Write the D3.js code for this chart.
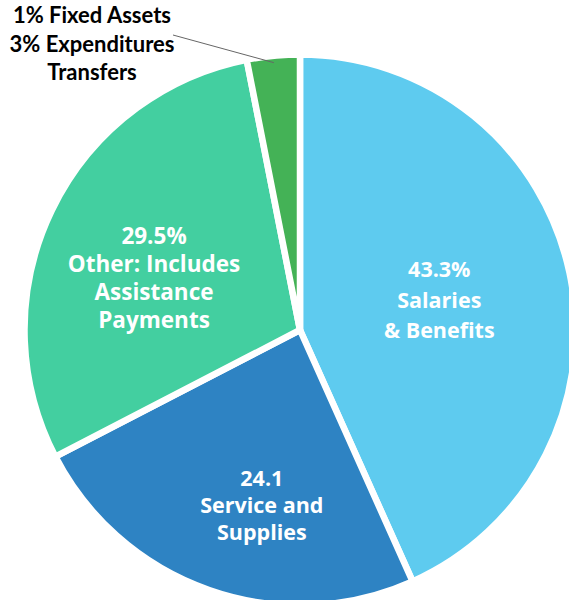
<!DOCTYPE html>
<html>
<head>
<meta charset="utf-8">
<script src="https://cdn.jsdelivr.net/npm/d3@7"></script>
<style>
  body { margin: 0; background: #fff; }
  svg { display: block; }
  .slice-label { fill: #fff; font-family: "Open Sans", Lato, sans-serif; font-weight: bold; }
  .outside-label { fill: #000; font-family: Lato, "Open Sans", sans-serif; font-weight: bold; }
</style>
</head>
<body>
<svg id="chart"></svg>
<script>
// Slice data
var categories = ["Salaries & Benefits", "Service and Supplies", "Other: Includes Assistance Payments", "Expenditures Transfers"];
var values = [43.3, 24.1, 29.5, 3.1];
var colors = ["#5ecbef", "#2e83c3", "#43cfa0", "#44b256"];

// Label lines for the slices
var sliceLabels = [
    ["43.3%", "Salaries", "& Benefits"],
    ["24.1", "Service and", "Supplies"],
    ["29.5%", "Other: Includes", "Assistance", "Payments"],
    []
];
var outsideLabel = ["1% Fixed Assets", "3% Expenditures", "Transfers"];

var width = 569, height = 600;
var cx = 300, cy = 330, radius = 275.5;

var svg = d3.select("#chart")
    .attr("width", width)
    .attr("height", height);

var data = categories.map(function(c, i) {
    return { name: c, value: values[i], color: colors[i], lines: sliceLabels[i] };
});

var pie = d3.pie()
    .sort(null)
    .value(d => d.value);

var arc = d3.arc()
    .innerRadius(0)
    .outerRadius(radius);

var g = svg.append("g")
    .attr("transform", "translate(" + cx + "," + cy + ")");

var arcs = pie(data);

// Draw slices
g.selectAll(".slice")
    .data(arcs)
    .enter().append("path")
    .attr("class", "slice")
    .attr("d", arc)
    .attr("fill", d => d.data.color)
    .attr("stroke", "#fff")
    .attr("stroke-width", 6.5)
    .attr("stroke-linejoin", "miter");

// Label placement: fraction of radius and angle offset (deg) from slice middle, hand tuned
var labelRadius = [0.517, 0.653, 0.563, 0];
var labelTurn = [0, -7, -6, 0];
var lineHeights = [30.5, 27, 28, 0];
var fontSizes = [21.5, 21.5, 22.5, 0];

arcs.forEach(function(d, i) {
    if (!d.data.lines.length) return;
    var mid = (d.startAngle + d.endAngle) / 2 + labelTurn[i] * Math.PI / 180;
    var r = radius * labelRadius[i];
    var x = Math.sin(mid) * r;
    var y = -Math.cos(mid) * r;
    var n = d.data.lines.length;
    var t = g.append("text")
        .attr("class", "slice-label")
        .attr("text-anchor", "middle")
        .style("font-size", fontSizes[i] + "px");
    d.data.lines.forEach(function(line, j) {
        t.append("tspan")
            .attr("x", x)
            .attr("y", y + (j - (n - 1) / 2) * lineHeights[i])
            .attr("dy", "0.35em")
            .text(line);
    });
});

// Outside label for the small slice, with a leader line
var small = arcs[3];
var smallMid = (small.startAngle + small.endAngle) / 2;
var px = cx + Math.sin(smallMid) * radius * 0.975;
var py = cy - Math.cos(smallMid) * radius * 0.975;

svg.append("line")
    .attr("x1", 173)
    .attr("y1", 35)
    .attr("x2", px)
    .attr("y2", py)
    .attr("stroke", "#666")
    .attr("stroke-width", 1);

var ot = svg.append("text")
    .attr("class", "outside-label")
    .attr("text-anchor", "middle")
    .style("font-size", "22px");
outsideLabel.forEach(function(line, j) {
    ot.append("tspan")
        .attr("x", 92)
        .attr("y", 23 + j * 28.5)
        .text(line);
});
</script>
</body>
</html>
